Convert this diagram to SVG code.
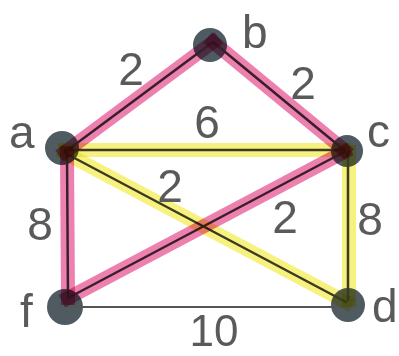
<svg xmlns="http://www.w3.org/2000/svg" width="399" height="356" viewBox="0 0 399 356">
<style>
.lbl{font-family:"Liberation Sans",Arial,sans-serif;font-size:46px;fill:#5a5a5a}
.w{text-anchor:middle}
.node{fill:#4f5a61}
.ln{stroke:#3e3e3e;stroke-width:2.5;stroke-linecap:round}
.thin{stroke:#555;stroke-width:2}
.hp{stroke:#e8609a;stroke-width:14;stroke-linecap:square;mix-blend-mode:multiply;opacity:0.8}
.hy{stroke:#f6ef6a;stroke-width:14;stroke-linecap:square;mix-blend-mode:multiply;opacity:0.85}
</style>
<rect width="399" height="356" fill="#fff"/>
<g id="node-a"><circle class="node" cx="62" cy="148" r="17"/><text class="lbl" x="9" y="148">a</text></g>
<g id="node-b"><circle class="node" cx="210" cy="45" r="17"/><text class="lbl" x="242" y="48">b</text></g>
<g id="node-c"><circle class="node" cx="347" cy="151" r="16"/><text class="lbl" x="367" y="147">c</text></g>
<g id="node-f"><circle class="node" cx="65" cy="307" r="18"/><text class="lbl" x="20" y="327">f</text></g>
<g id="node-d"><circle class="node" cx="348" cy="305" r="17"/><text class="lbl" x="372" y="322">d</text></g>
<g id="connectors">
<line class="thin" x1="65" y1="307" x2="348" y2="307"/>
<line class="ln" x1="65" y1="152" x2="213" y2="42"/>
<line class="ln" x1="213" y1="42" x2="344" y2="150"/>
<line class="ln" x1="65" y1="150" x2="344" y2="150"/>
<line class="ln" x1="65" y1="153" x2="346" y2="302"/>
<line class="ln" x1="68" y1="298" x2="344" y2="152"/>
<line class="ln" x1="67" y1="153" x2="68" y2="298"/>
<line class="ln" x1="348" y1="152" x2="348" y2="300"/>
<line class="hp" x1="65" y1="152" x2="213" y2="42"/>
<line class="hp" x1="213" y1="42" x2="344" y2="150"/>
<line class="hy" x1="65" y1="150" x2="344" y2="150"/>
<line class="hy" x1="65" y1="153" x2="346" y2="302"/>
<line class="hy" x1="349" y1="152" x2="349" y2="300"/>
<line class="hp" x1="68" y1="298" x2="344" y2="152"/>
<line class="hp" x1="67" y1="153" x2="68" y2="298"/>
</g>
<g id="edge-labels">
<text class="lbl w" x="131" y="85">2</text>
<text class="lbl w" x="303" y="99">2</text>
<text class="lbl w" x="207" y="138">6</text>
<text class="lbl w" x="170" y="202">2</text>
<text class="lbl w" x="285" y="233">2</text>
<text class="lbl w" x="40" y="240">8</text>
<text class="lbl w" x="370" y="235">8</text>
<text class="lbl w" x="214" y="346" style="font-size:44px">10</text>
</g>
</svg>
